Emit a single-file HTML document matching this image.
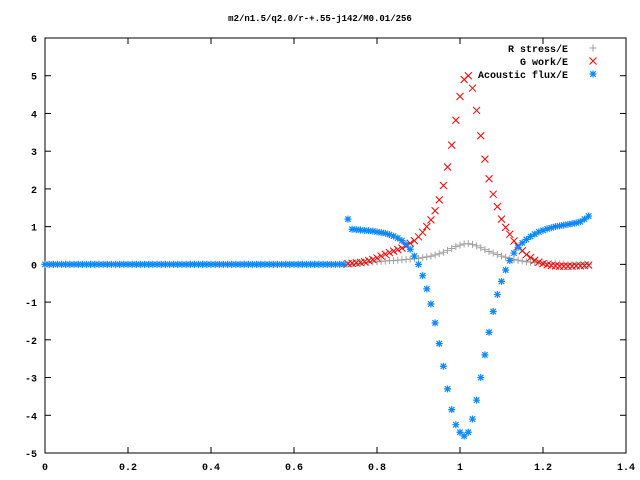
<!DOCTYPE html>
<html><head><meta charset="utf-8"><style>
html,body{margin:0;padding:0;background:#fff;}
svg{display:block;}
text{font-family:"Liberation Mono",monospace;font-weight:bold;font-size:10px;fill:#000;}
</style></head><body>
<svg id="chart" width="640" height="480" viewBox="0 0 640 480" xmlns="http://www.w3.org/2000/svg">
<rect width="640" height="480" fill="#fff"/>
<text x="320" y="21" text-anchor="middle" style="font-size:9px">m2/n1.5/q2.0/r-+.55-j142/M0.01/256</text>
<g id="axes"></g>
<g id="marks"></g>
<g id="legend">
<text x="568" y="52" text-anchor="end">R stress/E</text>
<text x="568" y="65" text-anchor="end">G work/E</text>
<text x="568" y="78" text-anchor="end">Acoustic flux/E</text>
</g>
</svg>
<script>
const xTicks=[0,0.2,0.4,0.6,0.8,1,1.2,1.4];
const xTickLabels=["0","0.2","0.4","0.6","0.8","1","1.2","1.4"];
const yTicks=[-5,-4,-3,-2,-1,0,1,2,3,4,5,6];
const yTickLabels=["-5","-4","-3","-2","-1","0","1","2","3","4","5","6"];
const xs=[0.73,0.74,0.75,0.76,0.77,0.78,0.79,0.80,0.81,0.82,0.83,0.84,0.85,0.86,0.87,0.88,0.89,0.90,0.91,0.92,0.93,0.94,0.95,0.96,0.97,0.98,0.99,1.00,1.01,1.02,1.03,1.04,1.05,1.06,1.07,1.08,1.09,1.10,1.11,1.12,1.13,1.14,1.15,1.16,1.17,1.18,1.19,1.20,1.21,1.22,1.23,1.24,1.25,1.26,1.27,1.28,1.29,1.30,1.31];
const rStress=[0,0.01,0.02,0.03,0.04,0.05,0.06,0.07,0.08,0.09,0.1,0.1,0.11,0.12,0.13,0.14,0.15,0.16,0.18,0.2,0.22,0.25,0.28,0.32,0.37,0.42,0.47,0.51,0.54,0.55,0.53,0.49,0.44,0.39,0.34,0.3,0.26,0.22,0.19,0.16,0.13,0.11,0.09,0.07,0.06,0.05,0.04,0.03,0.02,0.02,0.01,0.01,0.01,0,0,0,0,0,0];
const gWork=[0.02,0.03,0.04,0.05,0.07,0.1,0.13,0.17,0.22,0.27,0.31,0.35,0.39,0.43,0.49,0.56,0.63,0.73,0.85,1.0,1.18,1.42,1.71,2.09,2.58,3.16,3.82,4.45,4.9,5.0,4.67,4.08,3.41,2.79,2.27,1.86,1.53,1.2,0.98,0.8,0.62,0.48,0.36,0.26,0.18,0.11,0.06,0.02,-0.01,-0.03,-0.04,-0.05,-0.05,-0.05,-0.05,-0.04,-0.04,-0.03,-0.02];
const acoustic=[1.2,0.93,0.92,0.91,0.9,0.89,0.88,0.86,0.84,0.82,0.79,0.75,0.7,0.63,0.53,0.4,0.22,0.0,-0.3,-0.65,-1.05,-1.55,-2.1,-2.7,-3.3,-3.85,-4.25,-4.45,-4.55,-4.45,-4.1,-3.6,-3.0,-2.4,-1.8,-1.25,-0.8,-0.45,-0.15,0.1,0.3,0.45,0.57,0.66,0.74,0.8,0.86,0.9,0.94,0.97,1.0,1.02,1.04,1.06,1.08,1.1,1.13,1.2,1.28];
const flatStart=0, flatEnd=0.72, flatValue=0;

const L=45,R=626,T=38,B=453;
const sx=v=>L+(v-0)/1.4*(R-L);
const sy=v=>T+(6-v)/11*(B-T);
const NS="http://www.w3.org/2000/svg";
function mk(tag,attrs,parent){const e=document.createElementNS(NS,tag);for(const k in attrs)e.setAttribute(k,attrs[k]);parent.appendChild(e);return e;}
const axes=document.getElementById('axes');
const marks=document.getElementById('marks');
const frame=mk('rect',{x:L,y:T,width:R-L,height:B-T,fill:'none',stroke:'#000','stroke-width':1},axes);


xTicks.forEach((t,i)=>{
  const x=sx(t);
  const a=mk('line',{x1:x,y1:B,x2:x,y2:B-6,stroke:'#000'},axes);
  
  
  const b=mk('line',{x1:x,y1:T,x2:x,y2:T+6,stroke:'#000'},axes);
  
  
  const tx=mk('text',{x:x,y:B+17,'text-anchor':'middle'},axes);
  tx.textContent=xTickLabels[i];
  
  
});
yTicks.forEach((t,i)=>{
  const y=sy(t);
  const a=mk('line',{x1:L,y1:y,x2:L+6,y2:y,stroke:'#000'},axes);
  
  
  const b=mk('line',{x1:R,y1:y,x2:R-6,y2:y,stroke:'#000'},axes);
  
  
  const tx=mk('text',{x:L-8,y:y+4,'text-anchor':'end'},axes);
  tx.textContent=yTickLabels[i];
  
  
});
function plus(x,y,c,g){mk('path',{d:`M${x-3.5},${y}h7M${x},${y-3.5}v7`,stroke:c,'stroke-width':1,fill:'none'},g);}
function cross(x,y,c,g){mk('path',{d:`M${x-3.5},${y-3.5}l7,7M${x-3.5},${y+3.5}l7,-7`,stroke:c,'stroke-width':1,fill:'none'},g);}
function star(x,y,c,g){mk('path',{d:`M${x-3.5},${y}h7M${x},${y-3.5}v7M${x-2.7},${y-2.7}l5.4,5.4M${x-2.7},${y+2.7}l5.4,-5.4`,stroke:c,'stroke-width':1.2,fill:'none'},g);}
const flatX=[];for(let v=flatStart;v<=flatEnd+1e-9;v+=0.01)flatX.push(v);
function series(name,vals,fn,c,withFlat){
  const g=mk('g',{},marks);
  
  
  if(withFlat)flatX.forEach(v=>fn(sx(v),sy(flatValue),c,g));
  xs.forEach((v,i)=>fn(sx(v),sy(vals[i]),c,g));
}
series('series-r-stress',rStress,plus,'#a0a0a0',true);
series('series-g-work',gWork,cross,'#ff0000',false);
series('series-acoustic-flux',acoustic,star,'#0a88ff',true);
const lg=document.getElementById('legend');
plus(593,48,'#a0a0a0',lg);
cross(593,61,'#ff0000',lg);
star(593,74,'#0a88ff',lg);
</script>
</body></html>
